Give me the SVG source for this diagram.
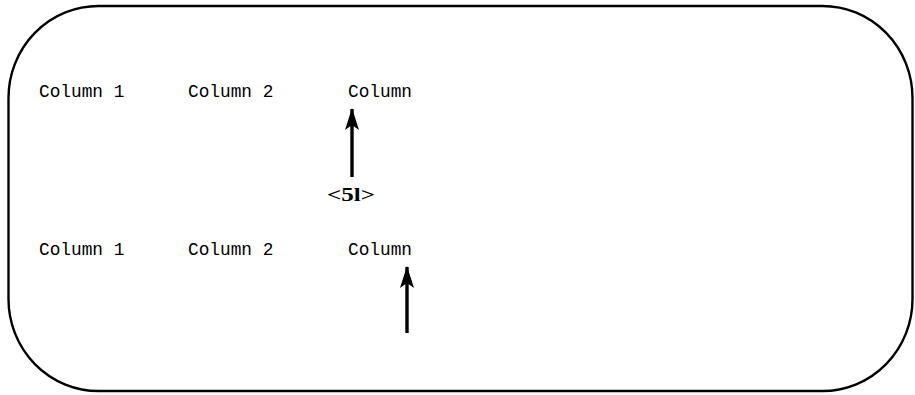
<svg xmlns="http://www.w3.org/2000/svg" width="915" height="395" viewBox="0 0 915 395">
<style>
.mono{font-family:"Liberation Mono","DejaVu Sans Mono",monospace;font-size:17.8px;fill:#000}
.lbl{font-family:"Liberation Serif","Times New Roman",serif;font-size:18px;font-weight:bold;fill:#000}
.conn{stroke:#000;stroke-width:3.4;fill:none}
</style>
<defs>
<marker id="ah" markerUnits="userSpaceOnUse" markerWidth="22" markerHeight="15" refX="21" refY="7.5" orient="auto" viewBox="0 0 22 15">
<path d="M22 7.5 L0 0.5 L5 7.5 L0 14.5 Z" fill="#000"/>
</marker>
</defs>
<rect id="frame" x="8.5" y="6" width="904" height="385" rx="90" ry="92" fill="#fff" stroke="#000" stroke-width="2.4"/>
<g id="row1">
<text class="mono" x="39" y="97">Column 1</text>
<text class="mono" x="188" y="97">Column 2</text>
<text class="mono" x="348" y="97">Column</text>
</g>
<g id="row2">
<text class="mono" x="39" y="255">Column 1</text>
<text class="mono" x="188" y="255">Column 2</text>
<text class="mono" x="348" y="255">Column</text>
</g>
<g id="label51">
<text class="lbl" x="327" y="201" textLength="48" lengthAdjust="spacingAndGlyphs">&lt;5l&gt;</text>
</g>
<g id="connectors">
<line class="conn" x1="352" y1="177" x2="352" y2="109" marker-end="url(#ah)"/>
<line class="conn" x1="407" y1="333" x2="407" y2="267" marker-end="url(#ah)"/>
</g>
</svg>
